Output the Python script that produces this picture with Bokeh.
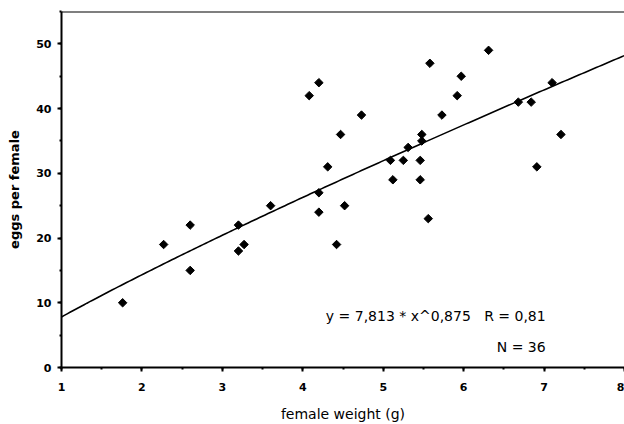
import numpy as np
from bokeh.plotting import figure
from bokeh.models import Range1d, SingleIntervalTicker, Span, Label
from bokeh.embed import file_html
from bokeh.resources import INLINE

# data
weight = [1.76, 2.27, 2.60, 2.60, 3.20, 3.20, 3.27, 3.60, 4.20, 4.08, 4.73, 4.47,
          4.31, 4.20, 4.20, 4.52, 4.42, 5.09, 5.12, 6.31, 5.58, 5.97, 5.92, 5.73,
          5.48, 5.48, 5.31, 5.25, 5.46, 5.46, 5.56, 7.10, 6.68, 6.84, 7.21, 6.91]
eggs = [10, 19, 22, 15, 22, 18, 19, 25, 44, 42, 39, 36,
        31, 27, 24, 25, 19, 32, 29, 49, 47, 45, 42, 39,
        36, 35, 34, 32, 32, 29, 23, 44, 41, 41, 36, 31]

# fitted power model shown on the chart: y = a * x^b
fit_a = 7.813
fit_b = 0.875
fit_r = "0,81"
n_obs = 36

FONT = "DejaVu Sans"
NB = "\u00a0"

p = figure(width=624, height=424, output_backend="svg", toolbar_location=None,
           x_range=Range1d(1, 8), y_range=Range1d(0, 55),
           min_border_left=61, min_border_right=0, min_border_top=11, min_border_bottom=57,
           background_fill_color="white", border_fill_color="white")
p.outline_line_color = None
p.grid.visible = False

p.xaxis.ticker = SingleIntervalTicker(interval=1, num_minor_ticks=2)
p.yaxis.ticker = SingleIntervalTicker(interval=10, num_minor_ticks=2)

for ax in (p.xaxis, p.yaxis):
    ax.axis_line_width = 2
    ax.axis_line_color = "black"
    ax.major_tick_line_width = 2
    ax.major_tick_line_color = "black"
    ax.major_tick_out = 4
    ax.major_tick_in = 0
    ax.minor_tick_line_width = 2
    ax.minor_tick_line_color = "black"
    ax.minor_tick_out = 2
    ax.minor_tick_in = 0
    ax.major_label_text_font = FONT
    ax.major_label_text_font_style = "bold"
    ax.major_label_text_font_size = "11px"
    ax.major_label_text_color = "black"
    ax.axis_label_text_color = "black"
    ax.axis_label_text_font = FONT

p.xaxis.axis_label = "female weight (g)"
p.xaxis.axis_label_text_font_style = "normal"
p.xaxis.axis_label_text_font_size = "14px"
p.xaxis.major_label_standoff = 11
p.xaxis.axis_label_standoff = 12

p.yaxis.axis_label = "eggs per female"
p.yaxis.axis_label_text_font_style = "bold"
p.yaxis.axis_label_text_font_size = "13px"
p.yaxis.major_label_standoff = 6
p.yaxis.axis_label_standoff = 11

p.add_layout(Span(location=55, dimension="width", line_color="black", line_width=2))

xs = np.linspace(1, 8, 200)
p.line(xs, fit_a * xs ** fit_b, line_color="black", line_width=1.6)

p.scatter(weight, eggs, marker="square", angle=np.pi / 4, size=6, color="black")

eq = ("y = %s * x^%s" % (str(fit_a).replace(".", ","), str(fit_b).replace(".", ","))) \
     + NB * 3 + "R = " + fit_r
p.add_layout(Label(x=7.02, y=8.0, text=eq, text_align="right", text_baseline="middle",
                   text_font=FONT, text_font_size="14px", text_color="black"))
p.add_layout(Label(x=7.02, y=3.2, text="N = %d" % n_obs, text_align="right",
                   text_baseline="middle", text_font=FONT, text_font_size="14px",
                   text_color="black"))

open("out.html", "w").write(file_html(p, INLINE))
